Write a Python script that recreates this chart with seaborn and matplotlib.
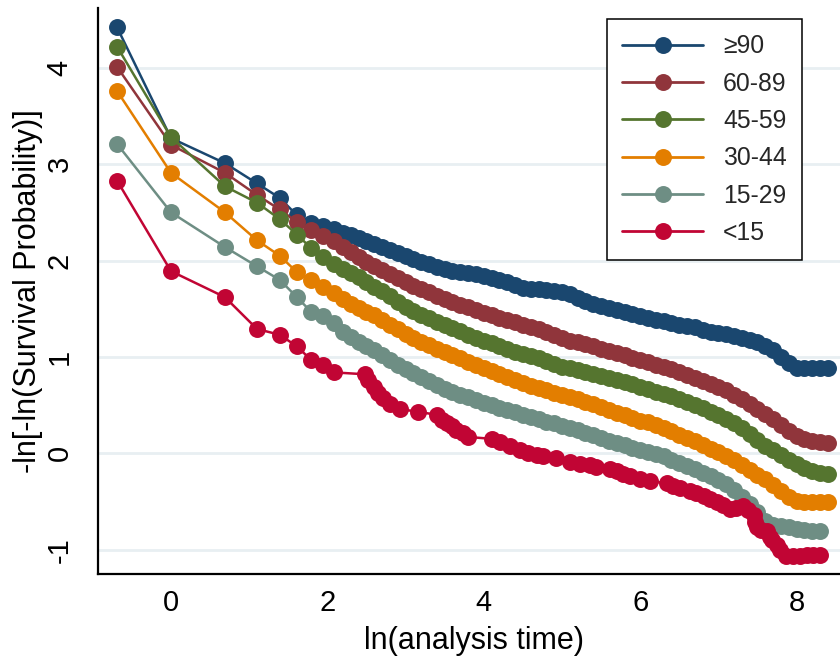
import matplotlib
matplotlib.use("Agg")
import matplotlib.pyplot as plt
from matplotlib.lines import Line2D
import pandas as pd
import seaborn as sns

# Age groups and their Stata-like colours
groups = ["≥90", "60-89", "45-59", "30-44", "15-29", "<15"]
colors = ["#1a476f", "#90353b", "#55752f", "#e37e00", "#6e8e84", "#c10534"]

# ln(analysis time) at which the five larger groups are plotted
ln_t = [-0.69, 0.00, 0.69, 1.10, 1.39, 1.61, 1.79, 1.95, 2.08, 2.20,
        2.3, 2.4, 2.5, 2.6, 2.7, 2.8, 2.9, 3.0, 3.1, 3.2,
        3.3, 3.4, 3.5, 3.6, 3.7, 3.8, 3.9, 4.0, 4.1, 4.2,
        4.3, 4.4, 4.5, 4.6, 4.7, 4.8, 4.9, 5.0, 5.1, 5.2,
        5.3, 5.4, 5.5, 5.6, 5.7, 5.8, 5.9, 6.0, 6.1, 6.2,
        6.3, 6.4, 6.5, 6.6, 6.7, 6.8, 6.9, 7.0, 7.1, 7.2,
        7.3, 7.4, 7.5, 7.6, 7.7, 7.8, 7.9, 8.0, 8.1, 8.2,
        8.3, 8.4]

y_ge90 = [4.42, 3.27, 3.01, 2.80, 2.65, 2.47, 2.39, 2.36, 2.33, 2.29,
          2.26, 2.23, 2.20, 2.17, 2.14, 2.11, 2.08, 2.05, 2.02, 1.99,
          1.96, 1.93, 1.91, 1.89, 1.88, 1.87, 1.86, 1.84, 1.82, 1.80,
          1.78, 1.75, 1.72, 1.70, 1.70, 1.69, 1.68, 1.67, 1.65, 1.61,
          1.58, 1.55, 1.53, 1.51, 1.49, 1.47, 1.45, 1.42, 1.40, 1.38,
          1.37, 1.35, 1.33, 1.32, 1.31, 1.28, 1.26, 1.25, 1.24, 1.22,
          1.20, 1.18, 1.15, 1.11, 1.07, 1.00, 0.94, 0.89, 0.89, 0.89,
          0.89, 0.89]

y_60_89 = [4.01, 3.20, 2.91, 2.68, 2.53, 2.40, 2.32, 2.25, 2.20, 2.14,
           2.09, 2.04, 1.99, 1.94, 1.90, 1.86, 1.82, 1.78, 1.74, 1.70,
           1.67, 1.63, 1.60, 1.57, 1.54, 1.52, 1.49, 1.46, 1.43, 1.40,
           1.38, 1.36, 1.33, 1.31, 1.29, 1.26, 1.23, 1.20, 1.17, 1.15,
           1.13, 1.11, 1.08, 1.06, 1.04, 1.02, 0.99, 0.97, 0.95, 0.92,
           0.90, 0.87, 0.84, 0.81, 0.78, 0.75, 0.72, 0.69, 0.66, 0.61,
           0.56, 0.51, 0.46, 0.41, 0.36, 0.29, 0.23, 0.18, 0.15, 0.13,
           0.12, 0.11]

y_45_59 = [4.22, 3.28, 2.77, 2.60, 2.43, 2.27, 2.13, 2.04, 1.96, 1.91,
           1.87, 1.83, 1.78, 1.73, 1.68, 1.63, 1.57, 1.52, 1.48, 1.44,
           1.40, 1.36, 1.33, 1.30, 1.27, 1.23, 1.20, 1.17, 1.14, 1.11,
           1.08, 1.05, 1.03, 1.01, 0.99, 0.96, 0.93, 0.90, 0.88, 0.86,
           0.84, 0.82, 0.80, 0.78, 0.76, 0.74, 0.72, 0.69, 0.67, 0.64,
           0.62, 0.59, 0.56, 0.53, 0.50, 0.47, 0.43, 0.40, 0.36, 0.31,
           0.26, 0.20, 0.14, 0.08, 0.03, -0.02, -0.07, -0.11, -0.15, -0.18,
           -0.20, -0.21]

y_30_44 = [3.76, 2.91, 2.50, 2.21, 2.05, 1.88, 1.80, 1.73, 1.66, 1.60,
           1.55, 1.51, 1.47, 1.43, 1.38, 1.33, 1.29, 1.24, 1.20, 1.16,
           1.12, 1.08, 1.05, 1.02, 0.99, 0.95, 0.92, 0.89, 0.85, 0.82,
           0.79, 0.76, 0.73, 0.70, 0.68, 0.66, 0.63, 0.61, 0.58, 0.56,
           0.53, 0.51, 0.48, 0.45, 0.42, 0.40, 0.37, 0.34, 0.32, 0.29,
           0.26, 0.23, 0.19, 0.16, 0.13, 0.09, 0.05, 0.01, -0.03, -0.07,
           -0.12, -0.17, -0.22, -0.27, -0.33, -0.39, -0.45, -0.49, -0.51, -0.51,
           -0.51, -0.51]

y_15_29 = [3.21, 2.50, 2.14, 1.94, 1.80, 1.62, 1.47, 1.42, 1.35, 1.26,
           1.21, 1.16, 1.11, 1.07, 1.02, 0.97, 0.92, 0.87, 0.83, 0.79,
           0.75, 0.71, 0.67, 0.64, 0.61, 0.58, 0.55, 0.52, 0.50, 0.47,
           0.45, 0.43, 0.40, 0.38, 0.36, 0.33, 0.31, 0.28, 0.26, 0.24,
           0.21, 0.19, 0.16, 0.13, 0.11, 0.09, 0.06, 0.03, 0.01, -0.01,
           -0.03, -0.07, -0.10, -0.13, -0.16, -0.20, -0.24, -0.28, -0.32, -0.38,
           -0.45, -0.53, -0.61, -0.70, -0.74, -0.75, -0.76, -0.78, -0.80, -0.81,
           -0.81]

# The youngest group has far fewer failure times
ln_t_lt15 = [-0.69, 0.00, 0.69, 1.10, 1.39, 1.61, 1.79, 1.95, 2.08, 2.48,
             2.52, 2.59, 2.65, 2.71, 2.80, 2.93, 3.16, 3.40, 3.46, 3.53,
             3.59, 3.65, 3.74, 3.80, 4.10, 4.21, 4.33, 4.46, 4.57, 4.68,
             4.76, 4.93, 5.10, 5.23, 5.36, 5.44, 5.61, 5.70, 5.78, 5.87,
             6.00, 6.13, 6.34, 6.42, 6.51, 6.64, 6.72, 6.81, 6.89, 6.98,
             7.06, 7.15, 7.23, 7.32, 7.38, 7.45, 7.47, 7.49, 7.55, 7.62,
             7.66, 7.68, 7.75, 7.79, 7.87, 7.96, 8.04, 8.13, 8.21, 8.30]
y_lt15 = [2.83, 1.89, 1.62, 1.29, 1.23, 1.11, 0.97, 0.92, 0.84, 0.82,
          0.76, 0.69, 0.63, 0.57, 0.51, 0.46, 0.43, 0.40, 0.35, 0.31,
          0.28, 0.24, 0.21, 0.17, 0.15, 0.12, 0.08, 0.03, 0.00, -0.02,
          -0.03, -0.05, -0.09, -0.11, -0.12, -0.14, -0.16, -0.18, -0.21, -0.24,
          -0.27, -0.29, -0.31, -0.34, -0.36, -0.39, -0.41, -0.44, -0.47, -0.50,
          -0.54, -0.58, -0.57, -0.55, -0.59, -0.64, -0.71, -0.76, -0.80, -0.81,
          -0.87, -0.90, -0.95, -1.00, -1.07, -1.07, -1.07, -1.06, -1.06, -1.05]

series = {
    "≥90": (ln_t, y_ge90),
    "60-89": (ln_t, y_60_89),
    "45-59": (ln_t, y_45_59),
    "30-44": (ln_t, y_30_44),
    "15-29": (ln_t[:len(y_15_29)], y_15_29),
    "<15": (ln_t_lt15, y_lt15),
}
df = pd.concat(
    [pd.DataFrame({"ln_t": x, "value": y, "group": g}) for g, (x, y) in series.items()],
    ignore_index=True,
)

sns.set_style("white")
plt.rcParams["font.family"] = ["Liberation Sans", "DejaVu Sans"]
plt.rcParams["axes.unicode_minus"] = False

W, H = 840, 664
fig = plt.figure(figsize=(W / 100, H / 100), dpi=100)
ax_l, ax_r, ax_t, ax_b = 97.7, 851.0, 8.0, 574.0
ax = fig.add_axes([ax_l / W, (H - ax_b) / H, (ax_r - ax_l) / W, (ax_b - ax_t) / H])

msize = 12.2
sns.lineplot(
    data=df, x="ln_t", y="value", hue="group", hue_order=groups, palette=colors,
    sort=False, estimator=None, marker="o", markersize=msize, markeredgewidth=0,
    linewidth=1.8, legend=False, ax=ax,
)

ax.set_xlim(-0.937, 8.696)
ax.set_ylim(-1.252, 4.62)
ax.set_xticks([0, 2, 4, 6, 8])
ax.set_yticks([-1, 0, 1, 2, 3, 4])
ax.yaxis.grid(True, color="#e8eff2", linewidth=2)
ax.xaxis.grid(False)
ax.set_axisbelow(True)

for side in ("top", "right"):
    ax.spines[side].set_visible(False)
for side in ("left", "bottom"):
    ax.spines[side].set_color("black")
    ax.spines[side].set_linewidth(1.6)

ax.tick_params(axis="both", length=8.5, width=1.5, color="black",
               labelsize=21, labelcolor="black")
ax.tick_params(axis="x", pad=2.5)
ax.tick_params(axis="y", pad=9)
for lab in ax.get_yticklabels():
    lab.set_rotation(90)
    lab.set_va("center")

ax.set_xlabel("ln(analysis time)", fontsize=22, color="black")
ax.set_ylabel("-ln[-ln(Survival Probability)]", fontsize=22, color="black")
ax.xaxis.label.set_va("center")
ax.xaxis.set_label_coords(0.5, -(641 - ax_b) / (ax_b - ax_t))
ax.yaxis.label.set_va("center")
ax.yaxis.set_label_coords((28 - ax_l) / (ax_r - ax_l), 0.5)

handles = [Line2D([0], [0], color=c, lw=2.0, marker="o", markersize=msize,
                  markeredgewidth=0) for c in colors]
leg = ax.legend(
    handles, groups, loc="upper left",
    bbox_to_anchor=((607 - ax_l) / (ax_r - ax_l), 1 - (19 - ax_t) / (ax_b - ax_t)),
    borderaxespad=0, frameon=True, fancybox=False, edgecolor="black",
    framealpha=1, fontsize=17.8, handlelength=3.28, handletextpad=0.8,
    labelspacing=0.54, borderpad=0.62, numpoints=1,
)
leg.get_frame().set_linewidth(1.1)

fig.savefig("out.png", dpi=100, facecolor="white")
